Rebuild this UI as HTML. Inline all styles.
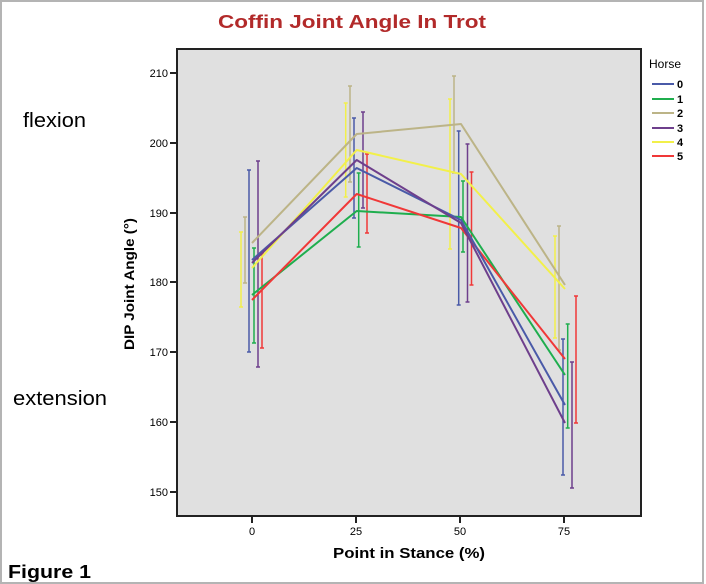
<!DOCTYPE html>
<html><head><meta charset="utf-8"><style>
html,body{margin:0;padding:0;background:#fff;}
svg{display:block;font-family:"Liberation Sans",Arial,sans-serif;}
</style></head><body>
<svg width="706" height="584" viewBox="0 0 706 584" xmlns="http://www.w3.org/2000/svg">
<rect x="0" y="0" width="706" height="584" fill="#fff"/>
<rect x="1" y="1" width="702" height="582" fill="none" stroke="#b4b4b4" stroke-width="2"/>
<text x="352" y="28" text-anchor="middle" font-size="18" font-weight="bold" fill="#b22a2a" textLength="268" lengthAdjust="spacingAndGlyphs">Coffin Joint Angle In Trot</text>
<text x="23" y="127" font-size="20" fill="#000" textLength="63" lengthAdjust="spacingAndGlyphs">flexion</text>
<text x="13" y="405" font-size="20" fill="#000" textLength="94" lengthAdjust="spacingAndGlyphs">extension</text>
<text x="8" y="578" font-size="18" font-weight="bold" fill="#000" textLength="83" lengthAdjust="spacingAndGlyphs">Figure 1</text>
<rect x="177" y="49" width="464" height="467" fill="#e0e0e0" stroke="#222" stroke-width="2"/>
<g stroke="#222" stroke-width="2">
<line x1="170" y1="73" x2="177" y2="73"/><line x1="170" y1="143" x2="177" y2="143"/>
<line x1="170" y1="213" x2="177" y2="213"/><line x1="170" y1="282" x2="177" y2="282"/>
<line x1="170" y1="352" x2="177" y2="352"/><line x1="170" y1="422" x2="177" y2="422"/>
<line x1="170" y1="492" x2="177" y2="492"/>
<line x1="252" y1="516" x2="252" y2="523"/><line x1="356" y1="516" x2="356" y2="523"/>
<line x1="460" y1="516" x2="460" y2="523"/><line x1="564" y1="516" x2="564" y2="523"/>
</g>
<g font-size="11" text-anchor="end" fill="#000">
<text x="168" y="77">210</text><text x="168" y="147">200</text><text x="168" y="217">190</text>
<text x="168" y="286">180</text><text x="168" y="356">170</text><text x="168" y="426">160</text>
<text x="168" y="496">150</text>
</g>
<g font-size="11" text-anchor="middle" fill="#000">
<text x="252" y="535">0</text><text x="356" y="535">25</text><text x="460" y="535">50</text><text x="564" y="535">75</text>
</g>
<text x="333" y="558" font-size="15" font-weight="bold" textLength="152" lengthAdjust="spacingAndGlyphs">Point in Stance (%)</text>
<text transform="translate(134,284) rotate(-90)" text-anchor="middle" font-size="14" font-weight="bold" textLength="132" lengthAdjust="spacingAndGlyphs">DIP Joint Angle (°)</text>
<g fill="none" stroke-width="1.5">
<!-- error bars: x offsets yellow -11, tan -7, blue -3, green +2, purple +6, red +10 -->
<g stroke="#f2f04a">
<path d="M241 232V307M239 232h4M239 307h4 M345.7 103V197M343.7 103h4M343.7 197h4 M450 99V249M448 99h4M448 249h4 M555 236V338M553 236h4M553 338h4"/>
</g>
<g stroke="#bcb487">
<path d="M245 217V283M243 217h4M243 283h4 M350 86V182M348 86h4M348 182h4 M454 76V173M452 76h4M452 173h4 M559 226V350M557 226h4M557 350h4"/>
</g>
<g stroke="#4a5aa8">
<path d="M249 170V352M247 170h4M247 352h4 M354 118V218M352 118h4M352 218h4 M458.7 131V305M456.7 131h4M456.7 305h4 M563 339V475M561 339h4M561 475h4"/>
</g>
<g stroke="#1fae4e">
<path d="M254 248V343M252 248h4M252 343h4 M358.7 173V247M356.7 173h4M356.7 247h4 M463 181V252M461 181h4M461 252h4 M567.7 324V428M565.7 324h4M565.7 428h4"/>
</g>
<g stroke="#6e3f8c">
<path d="M258 161V367M256 161h4M256 367h4 M363 112V208M361 112h4M361 208h4 M467.5 144V302M465.5 144h4M465.5 302h4 M572 362V488M570 362h4M570 488h4"/>
</g>
<g stroke="#f03838">
<path d="M262 253V348M260 253h4M260 348h4 M367 154V233M365 154h4M365 233h4 M471.5 172V285M469.5 172h4M469.5 285h4 M576 296V423M574 296h4M574 423h4"/>
</g>
</g>
<g fill="none" stroke-width="2" stroke-linejoin="round">
<polyline stroke="#bcb487" points="252,243 356.7,134 461,124 565,285"/>
<polyline stroke="#f2f04a" points="252,268 356.7,150 461,174 565,289"/>
<polyline stroke="#1fae4e" points="252,295 356.7,211 461,217 565,375"/>
<polyline stroke="#f03838" points="252,300 356.7,194 461,228 565,359"/>
<polyline stroke="#4a5aa8" points="252,260 356.7,168 461,220 565,405"/>
<polyline stroke="#6e3f8c" points="252,263 356.7,160 461,223 565,423"/>
</g>
<text x="649" y="68" font-size="12" fill="#000">Horse</text>
<g stroke-width="2">
<line x1="652" y1="84" x2="674" y2="84" stroke="#4a5aa8"/>
<line x1="652" y1="99" x2="674" y2="99" stroke="#1fae4e"/>
<line x1="652" y1="113" x2="674" y2="113" stroke="#bcb487"/>
<line x1="652" y1="128" x2="674" y2="128" stroke="#6e3f8c"/>
<line x1="652" y1="142" x2="674" y2="142" stroke="#f2f04a"/>
<line x1="652" y1="156" x2="674" y2="156" stroke="#f03838"/>
</g>
<g font-size="11" font-weight="bold" fill="#000">
<text x="677" y="88">0</text><text x="677" y="103">1</text><text x="677" y="117">2</text>
<text x="677" y="132">3</text><text x="677" y="146">4</text><text x="677" y="160">5</text>
</g>
</svg>
</body></html>
